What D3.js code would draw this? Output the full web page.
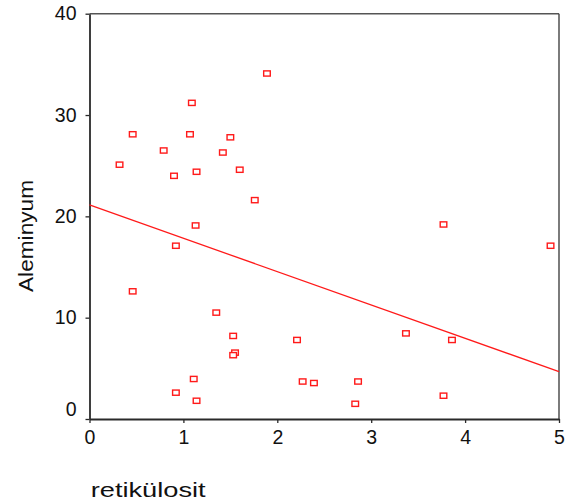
<!DOCTYPE html>
<html>
<head>
<meta charset="utf-8">
<script src="https://cdn.jsdelivr.net/npm/d3@7"></script>
<style>
  html, body { margin: 0; padding: 0; background: #fff; }
  svg { display: block; }
</style>
</head>
<body>
<script>
// ---- data ----
const retikulosit = [1.09, 0.46, 1.07, 0.79, 0.32, 0.90, 1.14, 1.89, 1.50, 1.42, 1.60, 1.76,
                     1.13, 0.92, 0.46, 1.11, 0.92, 1.14, 3.77, 4.91, 1.35, 1.53, 2.21, 3.37,
                     3.86, 1.55, 1.53, 2.27, 2.39, 2.86, 2.83, 3.77];
const aleminyum   = [31.2, 28.1, 28.1, 26.5, 25.1, 24.0, 24.4, 34.1, 27.8, 26.3, 24.6, 21.6,
                     19.1, 17.1, 12.6, 3.95, 2.6, 1.8, 19.2, 17.1, 10.5, 8.2, 7.8, 8.45,
                     7.8, 6.55, 6.3, 3.7, 3.55, 3.7, 1.5, 2.3];
const xTicks = [0, 1, 2, 3, 4, 5];
const yTicks = [0, 10, 20, 30, 40];
const fitX = [0, 5];
const fitY = [21.13, 4.67];
const xTitle = "retikülosit";
const yTitle = "Aleminyum";

// ---- layout ----
const W = 568, H = 504;
const svg = d3.select("body").append("svg").attr("width", W).attr("height", H);
const x = d3.scaleLinear().domain([0, 5]).range([89.5, 559]);
const y = d3.scaleLinear().domain([0, 40]).range([419, 13.7]);
const font = "'Liberation Sans', Arial, sans-serif";
const axisColor = "#2a2a2a";

// frame top & right
svg.append("line").attr("x1", x(0)).attr("x2", x(5)).attr("y1", y(40)).attr("y2", y(40))
  .attr("stroke", "#555").attr("stroke-width", 1.4);
svg.append("line").attr("x1", x(5)).attr("x2", x(5)).attr("y1", y(40)).attr("y2", y(0))
  .attr("stroke", "#444").attr("stroke-width", 1.4);

// x axis
const gx = svg.append("g").attr("transform", `translate(0,${y(0)})`)
  .call(d3.axisBottom(x).tickValues(xTicks).tickFormat(d3.format("d")).tickSize(4).tickSizeOuter(0).tickPadding(7));
// y axis
const gy = svg.append("g").attr("transform", `translate(${x(0)},0)`)
  .call(d3.axisLeft(y).tickValues(yTicks).tickFormat(d3.format("d")).tickSize(4).tickSizeOuter(0).tickPadding(9));

[gx, gy].forEach(g => {
  g.select(".domain").attr("stroke", axisColor).attr("stroke-width", 1.8);
  g.selectAll(".tick line").attr("stroke", axisColor).attr("stroke-width", 1.3);
  g.selectAll(".tick text").attr("font-family", font).attr("font-size", "19.5px").attr("fill", "#111");
});
gy.selectAll(".tick text").filter(d => d === 0).attr("dy", "-0.2em");

// regression line
svg.append("line")
  .attr("x1", x(fitX[0])).attr("y1", y(fitY[0]))
  .attr("x2", x(fitX[1])).attr("y2", y(fitY[1]))
  .attr("stroke", "#ff1a1a").attr("stroke-width", 1.3);

// points
svg.append("g").selectAll("rect")
  .data(retikulosit.map((v, i) => [v, aleminyum[i]]))
  .join("rect")
  .attr("x", d => x(d[0]) - 3.3)
  .attr("y", d => y(d[1]) - 2.6)
  .attr("width", 6.6).attr("height", 5.2)
  .attr("fill", "#fff").attr("stroke", "#ff1a1a").attr("stroke-width", 1.4);

// titles
svg.append("text").text(xTitle)
  .attr("x", 90.7).attr("y", 496.5)
  .attr("font-family", font).attr("font-size", "20px").attr("fill", "#111")
  .attr("textLength", 115).attr("lengthAdjust", "spacingAndGlyphs");

svg.append("text").text(yTitle)
  .attr("transform", "translate(33,236) rotate(-90)")
  .attr("text-anchor", "middle")
  .attr("font-family", font).attr("font-size", "20px").attr("fill", "#111")
  .attr("textLength", 112).attr("lengthAdjust", "spacingAndGlyphs");
</script>
</body>
</html>
